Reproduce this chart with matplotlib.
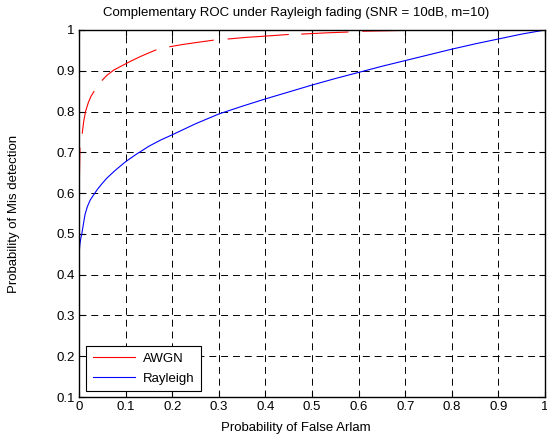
import numpy as np
import matplotlib
matplotlib.use("Agg")
import matplotlib.pyplot as plt

plt.rcParams['font.family'] = ['Liberation Sans', 'DejaVu Sans']
plt.rcParams['lines.scale_dashes'] = False

# AWGN curve, drawn as separate pieces (gaps as in the reference)
awgn_x = [0, 0, 0.001, 0.002, np.nan,
          0.007, 0.010, 0.014, 0.020, 0.026, 0.032, np.nan,
          0.05, 0.06, 0.075, 0.09, 0.11, 0.13, 0.15, 0.165, np.nan,
          0.195, 0.22, 0.25, 0.288, np.nan,
          0.32, 0.36, 0.40, 0.449, np.nan,
          0.478, 0.53, 0.577, np.nan,
          0.609, 0.7, 0.8, 0.9, 1.0]
awgn_y = [0.1, 0.55, 0.64, 0.71, np.nan,
          0.747, 0.775, 0.80, 0.822, 0.838, 0.849, np.nan,
          0.877, 0.889, 0.902, 0.911, 0.923, 0.934, 0.944, 0.951, np.nan,
          0.959, 0.964, 0.969, 0.975, np.nan,
          0.978, 0.982, 0.985, 0.989, np.nan,
          0.990, 0.993, 0.995, np.nan,
          0.997, 0.999, 1.0, 1.0, 1.0]

ray_x = [0, 0, 0.002, 0.004, 0.006, 0.01, 0.013, 0.018, 0.024, 0.034, 0.04,
         0.05, 0.06, 0.075, 0.08, 0.1, 0.12, 0.15, 0.175, 0.2, 0.25,
         0.3, 0.35, 0.4, 0.45, 0.5, 0.55, 0.6, 0.65, 0.7, 0.75, 0.8, 0.85,
         0.9, 0.95, 1.0]
ray_y = [0.1, 0.45, 0.475, 0.49, 0.50, 0.528, 0.548, 0.567, 0.583, 0.6, 0.61,
         0.624, 0.637, 0.653, 0.658, 0.677, 0.693, 0.715, 0.73, 0.743, 0.77,
         0.794, 0.813, 0.831, 0.848, 0.865, 0.881, 0.896, 0.911, 0.925, 0.939, 0.953, 0.966,
         0.978, 0.99, 1.0]

xticks = [0, 0.1, 0.2, 0.3, 0.4, 0.5, 0.6, 0.7, 0.8, 0.9, 1]
yticks = [0.1, 0.2, 0.3, 0.4, 0.5, 0.6, 0.7, 0.8, 0.9, 1]

fs = 9.5

fig = plt.figure(figsize=(5.47, 4.36), dpi=100)
ax = fig.add_axes([79/547, 1-397/436, (545-79)/547, (397-30)/436])

ax.plot(awgn_x, awgn_y, color='#ff0000', lw=0.8, label='AWGN')
ax.plot(ray_x, ray_y, color='#0000ff', lw=0.8, label='Rayleigh')

ax.set_xlim(0, 1)
ax.set_ylim(0.1, 1)
ax.set_xticks(xticks)
ax.set_yticks(yticks)
ax.set_xticklabels([f"{v:g}" for v in xticks])
ax.set_yticklabels([f"{v:g}" for v in yticks])
ax.tick_params(direction='in', top=True, right=True, length=4, width=0.8,
               labelsize=fs, pad=3)
for s in ax.spines.values():
    s.set_linewidth(1.0)
ax.grid(True, color='k', linestyle=(0, (5, 3.5)), linewidth=0.7)

ax.set_title('Complementary ROC under Rayleigh fading (SNR = 10dB, m=10)', fontsize=fs,
             pad=10, x=0.466)
ax.set_xlabel('Probability of False Arlam', fontsize=fs, labelpad=6, x=0.466)
ax.set_ylabel('Probability of Mis detection', fontsize=fs, labelpad=26)

leg = ax.legend(loc='lower left', bbox_to_anchor=(0.015, 0.016), borderaxespad=0,
                fontsize=fs, fancybox=False, edgecolor='k', framealpha=1,
                handlelength=3.2, borderpad=0.5, labelspacing=0.55, handletextpad=0.6)
leg.get_frame().set_linewidth(0.8)

fig.savefig('out.png', dpi=100)
